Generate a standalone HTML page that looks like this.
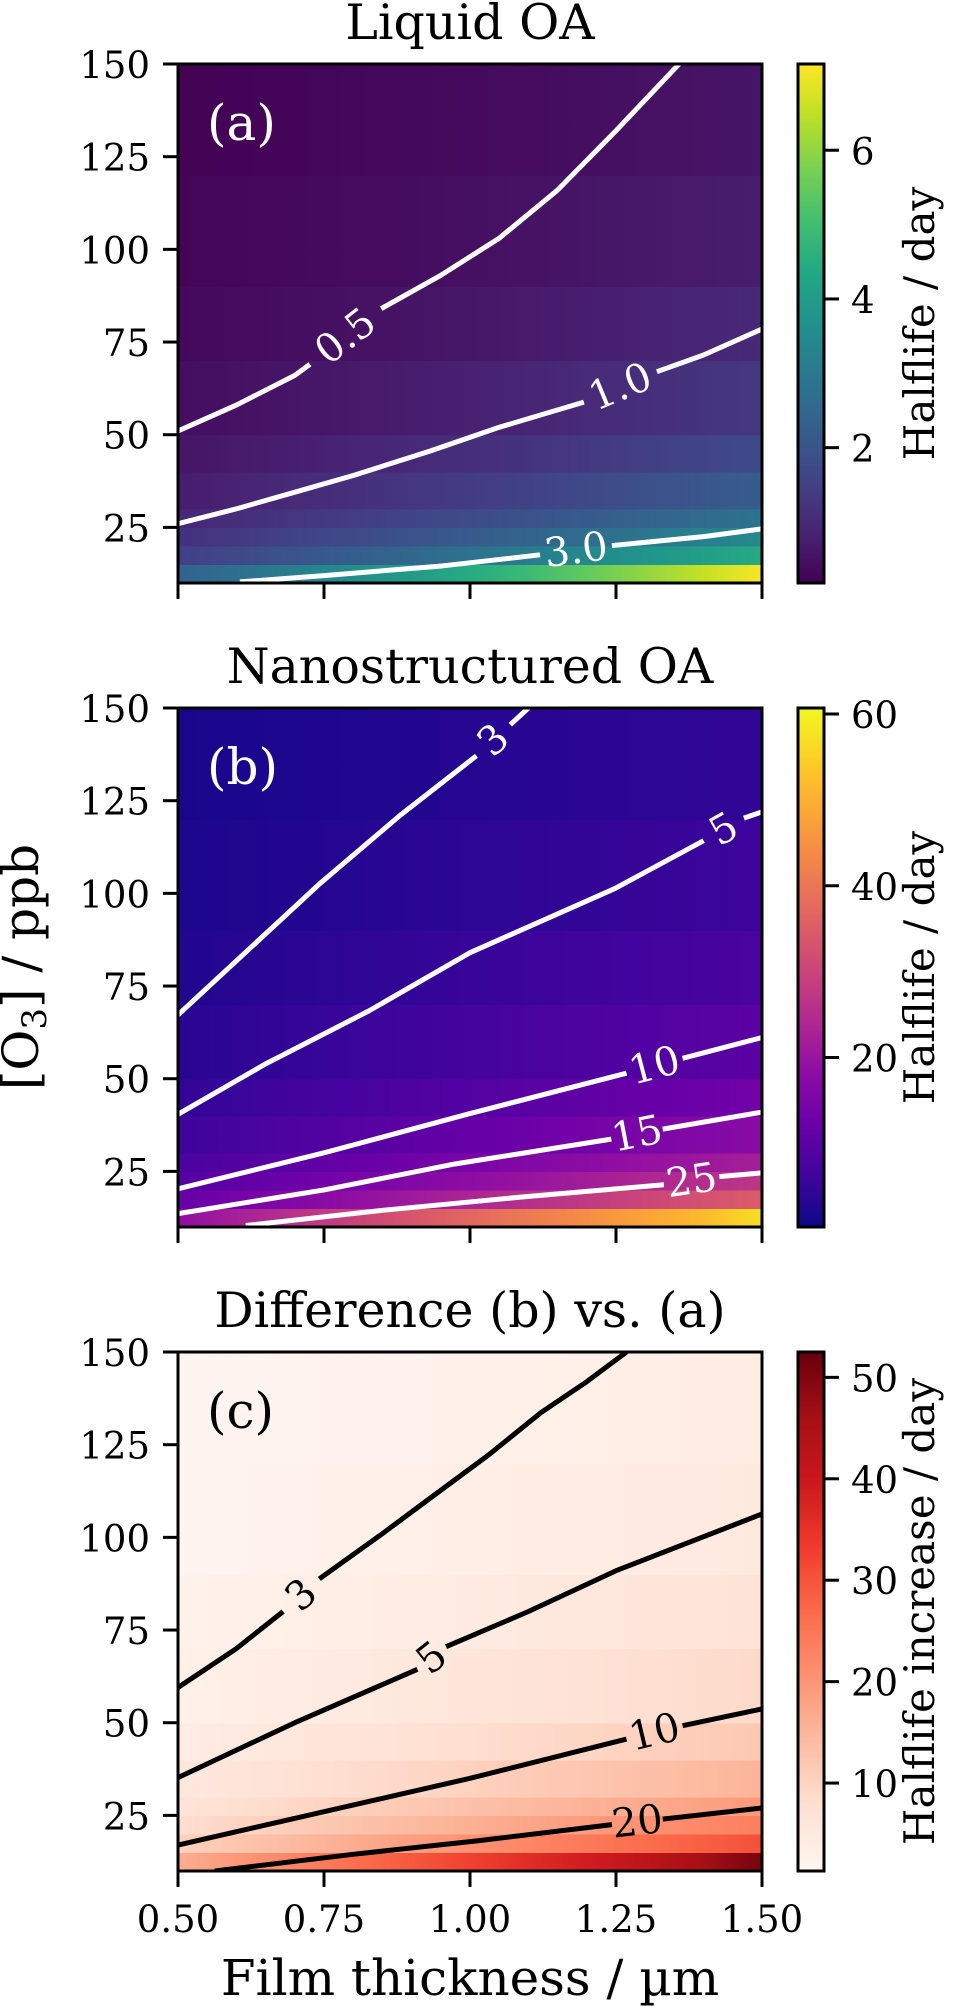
<!DOCTYPE html>
<html><head><meta charset="utf-8"><style>
html,body{margin:0;padding:0;background:#fff;}
svg{display:block;font-family:"DejaVu Serif","Liberation Serif",serif;}
</style></head><body>
<svg id="fig" xmlns="http://www.w3.org/2000/svg" width="964" height="2006" viewBox="0 0 964 2006"></svg>
<script>
// ---------- data ----------
const thickness = [0.5,0.6,0.7,0.8,0.9,1.0,1.1,1.2,1.3,1.4,1.5];
const ozoneEdges = [10,15,20,25,30,40,50,70,90,120,150];
const xTicks = [0.5,0.75,1.0,1.25,1.5];
const xTickLabels = ['0.50','0.75','1.00','1.25','1.50'];
const yTicks = [25,50,75,100,125,150];
const yTickLabels = ['25','50','75','100','125','150'];

const halflifeLiquid = [
 [2.36,2.73,3.18,3.55,4.0,4.45,4.9,5.45,6.0,6.55,7.1],
 [1.49,1.71,2.0,2.23,2.51,2.8,3.09,3.43,3.77,4.11,4.46],
 [1.16,1.33,1.56,1.73,1.96,2.18,2.4,2.67,2.93,3.2,3.47],
 [0.95,1.09,1.27,1.42,1.6,1.78,1.96,2.18,2.4,2.62,2.84],
 [0.74,0.86,1.0,1.11,1.26,1.4,1.54,1.71,1.89,2.06,2.23],
 [0.58,0.67,0.78,0.87,0.98,1.09,1.2,1.33,1.47,1.6,1.73],
 [0.43,0.5,0.58,0.65,0.73,0.82,0.9,1.0,1.1,1.2,1.3],
 [0.33,0.38,0.44,0.49,0.55,0.61,0.68,0.75,0.83,0.9,0.98],
 [0.25,0.29,0.33,0.37,0.42,0.47,0.51,0.57,0.63,0.69,0.74],
 [0.19,0.22,0.26,0.29,0.33,0.36,0.4,0.44,0.49,0.53,0.58]
];
const halflifeNano = [
 [18.6,22.3,26,29.6,33.4,37,40.7,44.4,48.1,51.7,57],
 [11.7,14,16.3,18.6,21,23.3,25.6,27.9,30.2,32.5,34.9],
 [9.1,10.9,12.7,14.5,16.3,18.1,19.9,21.7,23.5,25.3,27.1],
 [7.5,8.9,10.4,11.9,13.3,14.8,16.3,17.7,19.2,20.7,22.2],
 [5.9,7,8.2,9.3,10.5,11.6,12.8,13.9,15.1,16.3,17.4],
 [4.6,5.4,6.4,7.2,8.2,9,10,10.8,11.8,12.6,13.6],
 [3.4,4.1,4.8,5.4,6.1,6.8,7.5,8.1,8.8,9.5,10.2],
 [2.6,3.1,3.6,4.1,4.6,5.1,5.6,6.1,6.6,7.1,7.6],
 [2.0,2.3,2.7,3.1,3.5,3.9,4.3,4.6,5.0,5.4,5.8],
 [1.5,1.8,2.1,2.4,2.7,3.0,3.3,3.6,3.9,4.2,4.5]
];
const halflifeDiff = [
 [16.2,19.6,22.8,26,29.4,32.5,35.8,38.9,42.1,46,51],
 [10.2,12.3,14.3,16.4,18.5,20.5,22.5,24.5,26.4,28.4,30.4],
 [7.9,9.6,11.1,12.8,14.3,15.9,17.5,19,20.6,22.1,23.6],
 [6.5,7.8,9.1,10.5,11.7,13,14.3,15.5,16.8,18.1,19.4],
 [5.2,6.1,7.2,8.2,9.2,10.2,11.3,12.2,13.2,14.2,15.2],
 [4.0,4.7,5.6,6.3,7.2,7.9,8.8,9.5,10.3,11,11.9],
 [3.0,3.6,4.2,4.8,5.4,6,6.6,7.1,7.7,8.3,8.9],
 [2.3,2.7,3.2,3.6,4.0,4.5,4.9,5.4,5.8,6.2,6.6],
 [1.75,2.0,2.4,2.7,3.1,3.4,3.8,4.0,4.4,4.7,5.1],
 [1.3,1.6,1.8,2.1,2.4,2.6,2.9,3.2,3.4,3.7,3.9]
];

const contoursLiquid = [
 {level:'0.5', seg1:[[0.5,51],[0.6,58],[0.7,66],[0.726,69]], seg2:[[0.848,84],[0.95,93],[1.05,103],[1.15,116],[1.25,132],[1.358,150]]},
 {level:'1.0', seg1:[[0.5,26],[0.6,30],[0.7,34.5],[0.8,39],[0.932,45.6],[1.05,52],[1.195,58.8]], seg2:[[1.32,67],[1.4,71.5],[1.5,78.5]]},
 {level:'3.0', seg1:[[0.606,10.3],[0.75,12],[0.952,14.6],[1.12,17.6]], seg2:[[1.243,20.1],[1.4,22.5],[1.5,24.6]]}
];
const contoursNano = [
 {level:'3', seg1:[[0.5,67.2],[0.742,102.5],[0.88,121],[1.011,137.1]], seg2:[[1.069,145.5],[1.1,150]]},
 {level:'5', seg1:[[0.5,40.4],[0.65,54],[0.827,68.3],[1.0,84],[1.248,101.3],[1.4,114.2]], seg2:[[1.469,120.3],[1.5,122]]},
 {level:'10', seg1:[[0.5,20.3],[0.75,30],[0.995,40.4],[1.268,51.5]], seg2:[[1.364,55.5],[1.5,61.1]]},
 {level:'15', seg1:[[0.5,13.6],[0.75,20],[0.974,27],[1.242,33.7]], seg2:[[1.33,36.4],[1.5,41]]},
 {level:'25', seg1:[[0.616,10.4],[0.85,14.5],[1.089,18.1],[1.332,21.4]], seg2:[[1.427,23.6],[1.5,24.6]]}
];
const contoursDiff = [
 {level:'3', seg1:[[0.5,59.5],[0.6,70],[0.68,80]], seg2:[[0.742,88.8],[0.85,101],[0.932,110.6],[1.03,122],[1.121,133.6],[1.2,142],[1.268,150]]},
 {level:'5', seg1:[[0.5,35.2],[0.7,50],[0.91,64.4]], seg2:[[0.959,70.5],[1.1,80],[1.25,91],[1.5,106.3]]},
 {level:'10', seg1:[[0.5,17],[0.75,26],[1.0,35],[1.268,45.6]], seg2:[[1.364,49.2],[1.5,53.7]]},
 {level:'20', seg1:[[0.563,10],[0.8,14.5],[1.016,18.2],[1.243,22.5]], seg2:[[1.33,24],[1.5,27]]}
];
const cbTicksLiquid = [2,4,6];
const cbTicksNano = [20,40,60];
const cbTicksDiff = [10,20,30,40,50];

// ---------- colormaps ----------
const viridis=['#440154','#482475','#414487','#355f8d','#2a788e','#21918c','#22a884','#44bf70','#7ad151','#bddf26','#fde725'];
const plasma=['#0d0887','#41049d','#6a00a8','#8f0da4','#b12a90','#cc4778','#e16462','#f2844b','#fca636','#fcce25','#f0f921'];
const reds=['#fff5f0','#fee0d2','#fcbba1','#fc9272','#fb6a4a','#ef3b2c','#cb181d','#a50f15','#67000d'];
function hex(h){return [parseInt(h.substr(1,2),16),parseInt(h.substr(3,2),16),parseInt(h.substr(5,2),16)];}
function cmap(stops,t){
  t=Math.max(0,Math.min(1,t));
  const n=stops.length-1, f=t*n, i=Math.min(Math.floor(f),n-1), u=f-i;
  const a=hex(stops[i]), b=hex(stops[i+1]);
  return 'rgb('+a.map((v,k)=>Math.round(v+(b[k]-v)*u)).join(',')+')';
}

// ---------- drawing ----------
const NS='http://www.w3.org/2000/svg';
const svg=document.getElementById('fig');
function el(tag,attrs,parent){const e=document.createElementNS(NS,tag);for(const k in attrs)e.setAttribute(k,attrs[k]);(parent||svg).appendChild(e);return e;}
const PL=178, PR=762, PH=519, CBL=798, CBR=824;
function xS(v){return PL+(v-0.5)*(PR-PL);}

function panel(o){
  const top=o.top, bot=top+PH;
  const yS=v=>bot-(v-10)/140*PH;
  const g=el('g',{});
  
  
  const t=el('text',{x:(PL+PR)/2,y:top-25,'font-size':49,'text-anchor':'middle',fill:'#000'},g);
  t.textContent=o.title;
  
  
  const hm=el('g',{'shape-rendering':'crispEdges'},g);
  
  
  for(let r=0;r<o.values.length;r++){
    const gid='row'+o.id+r;
    const lg=el('linearGradient',{id:gid,x1:0,y1:0,x2:1,y2:0},hm);
    for(let c=0;c<thickness.length;c++){
      el('stop',{offset:(thickness[c]-0.5)/1.0,'stop-color':cmap(o.cm,(o.values[r][c]-o.vmin)/(o.vmax-o.vmin))},lg);
    }
    const rc=el('rect',{x:PL,y:yS(ozoneEdges[r+1]),width:PR-PL,height:yS(ozoneEdges[r])-yS(ozoneEdges[r+1])+0.6,fill:'url(#'+gid+')'},hm);
    
    
  }
  const clip='clip'+o.id;
  const cp=el('clipPath',{id:clip},g); el('rect',{x:PL,y:top,width:PR-PL,height:PH},cp);
  o.contours.forEach(ct=>{
    const cg=el('g',{'clip-path':'url(#'+clip+')'},g);
    
    
    [ct.seg1,ct.seg2].forEach(s=>{
      el('polyline',{points:s.map(p=>xS(p[0])+','+yS(p[1])).join(' '),fill:'none',stroke:o.lc,'stroke-width':5,'stroke-linejoin':'round'},cg);
    });
    const a=ct.seg1[ct.seg1.length-1], b=ct.seg2[0];
    const ax=xS(a[0]),ay=yS(a[1]),bx=xS(b[0]),by=yS(b[1]);
    const mx=(ax+bx)/2,my=(ay+by)/2, ang=Math.atan2(by-ay,bx-ax)*180/Math.PI;
    const lt=el('text',{x:mx,y:my,'font-size':40,'text-anchor':'middle','dominant-baseline':'central',fill:o.lc,transform:'rotate('+ang+' '+mx+' '+my+')'},g);
    lt.textContent=ct.level;
    
    
  });
  el('rect',{x:PL,y:top,width:PR-PL,height:PH,fill:'none',stroke:'#000','stroke-width':3},g);
  const pl=el('text',{x:207,y:top+76,'font-size':50,fill:o.letterColor},g);
  pl.textContent=o.letter;
  
  
  yTicks.forEach((v,i)=>{
    el('line',{x1:PL-15,x2:PL,y1:yS(v),y2:yS(v),stroke:'#000','stroke-width':3},g);
    const tl=el('text',{x:PL-28,y:yS(v)+14,'font-size':37,'text-anchor':'end'},g);
    tl.textContent=yTickLabels[i];
    
    
  });
  xTicks.forEach((v,i)=>{
    el('line',{x1:xS(v),x2:xS(v),y1:bot,y2:bot+16,stroke:'#000','stroke-width':3},g);
    if(o.xlabels){
      const tl=el('text',{x:xS(v),y:bot+61,'font-size':37,'text-anchor':'middle'},g);
      tl.textContent=xTickLabels[i];
      
      
    }
  });
  const gid='grad'+o.id;
  const lg=el('linearGradient',{id:gid,x1:0,y1:1,x2:0,y2:0},g);
  o.cm.forEach((c,i)=>el('stop',{offset:i/(o.cm.length-1),'stop-color':c},lg));
  const cb=el('rect',{x:CBL,y:top,width:CBR-CBL,height:PH,fill:'url(#'+gid+')',stroke:'#000','stroke-width':3},g);
  
  
  const cS=v=>bot-(v-o.vmin)/(o.vmax-o.vmin)*PH;
  o.cbTicks.forEach(v=>{
    el('line',{x1:CBR,x2:CBR+15,y1:cS(v),y2:cS(v),stroke:'#000','stroke-width':3},g);
    const tl=el('text',{x:CBR+27,y:cS(v)+14,'font-size':37},g);
    tl.textContent=String(v);
    
    
  });
  const cy=top+PH/2;
  const cl=el('text',{x:934,y:cy,'font-size':42,'text-anchor':'middle',transform:'rotate(-90 934 '+cy+')'},g);
  cl.textContent=o.cbLabel;
  
  
}

panel({id:'a',name:'panel-liquid-oa',title:'Liquid OA',top:64,values:halflifeLiquid,cm:viridis,vmin:0.18,vmax:7.16,contours:contoursLiquid,lc:'#fff',letter:'(a)',letterColor:'#fff',cbTicks:cbTicksLiquid,cbLabel:'Halflife / day',xlabels:false});
panel({id:'b',name:'panel-nanostructured-oa',title:'Nanostructured OA',top:708,values:halflifeNano,cm:plasma,vmin:0.26,vmax:60.7,contours:contoursNano,lc:'#fff',letter:'(b)',letterColor:'#fff',cbTicks:cbTicksNano,cbLabel:'Halflife / day',xlabels:false});
panel({id:'c',name:'panel-difference',title:'Difference (b) vs. (a)',top:1352,values:halflifeDiff,cm:reds,vmin:1.33,vmax:52.5,contours:contoursDiff,lc:'#000',letter:'(c)',letterColor:'#000',cbTicks:cbTicksDiff,cbLabel:'Halflife increase / day',xlabels:true});

const xl=el('text',{x:(PL+PR)/2,y:1995,'font-size':50,'text-anchor':'middle'});
xl.textContent='Film thickness / µm';


const yl=el('text',{x:38,y:967,'font-size':50,'text-anchor':'middle',transform:'rotate(-90 38 967)'});


yl.appendChild(document.createTextNode('[O'));
const sub=el('tspan',{'font-size':34,dy:8},yl); sub.textContent='3';
const rest=el('tspan',{dy:-8},yl); rest.textContent='] / ppb';
</script>
</body></html>
